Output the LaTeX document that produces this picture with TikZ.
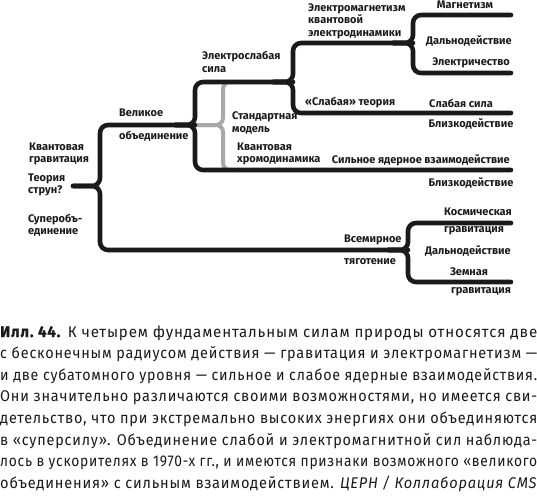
\documentclass[tikz,border=0pt]{standalone}
\usepackage{fontspec}
\usepackage{graphicx}
\setmainfont{Fira Sans}
\definecolor{linec}{HTML}{1A1A1A}
\definecolor{grayc}{HTML}{A8A8A8}
\definecolor{txtc}{HTML}{1A1A1A}
\newcommand\capln[1]{\setbox0\hbox{#1}\ifdim\wd0>537pt \resizebox{537pt}{\height}{\box0}\else\makebox[537pt][s]{#1}\fi}
\tikzset{
  br/.style={line width=4.6pt, draw=linec, rounded corners=8pt, line cap=round, line join=round},
  gbr/.style={line width=4pt, draw=grayc, rounded corners=7pt},
  lbl/.style={inner sep=0pt, font=\bfseries\fontsize{11}{12.5}\selectfont, text=txtc, align=left},
  lblc/.style={lbl, align=center},
  capl/.style={inner sep=0pt, anchor=base west, text=txtc, font=\fontsize{15.5}{21.6}\selectfont\addfontfeature{LetterSpace=5.5}},
}
\begin{document}
\begin{tikzpicture}[x=1pt,y=-1pt]
\useasboundingbox (0,0) rectangle (537,501);
% branch points
\coordinate (r0) at (73,186);
\coordinate (rb) at (100,186);
\coordinate (vb) at (195,125);
\coordinate (eb) at (293,82);
\coordinate (mb) at (413,43);
\coordinate (gb) at (408,250);
\coordinate (sb) at (223,125);
\coordinate (sT) at (245,82);
\coordinate (sB) at (245,170);
% ends
\coordinate (eMag) at (511,15);
\coordinate (eEl) at (511,73);
\coordinate (eWeak) at (511,113);
\coordinate (eStr) at (511,170);
\coordinate (eKos) at (511,223);
\coordinate (eZem) at (511,282);
% gray standard model brace
\draw[gbr] (vb) -- (sb) |- (sT);
\draw[gbr] (vb) -- (sb) |- (sB);
% black tree
\draw[br] (r0) -- (rb) |- (vb);
\draw[br] (r0) -- (rb) |- (gb);
\draw[br] ([xshift=-20pt]vb) -- (vb) |- (eb);
\draw[br] ([xshift=-20pt]vb) -- (vb) |- (eStr);
\draw[br] ([xshift=-20pt]eb) -- (eb) |- (mb);
\draw[br] ([xshift=-20pt]eb) -- (eb) |- (eWeak);
\draw[br] ([xshift=-20pt]mb) -- (mb) |- (eMag);
\draw[br] ([xshift=-20pt]mb) -- (mb) |- (eEl);
\draw[br] ([xshift=-20pt]gb) -- (gb) |- (eKos);
\draw[br] ([xshift=-20pt]gb) -- (gb) |- (eZem);
% labels
\node[lblc] (tMag) at (465,5) {Магнетизм};
\node[lblc] (tDal1) at (469,41) {Дальнодействие};
\node[lblc] (tEl) at (471,63) {Электричество};
\node[lbl, anchor=west] (tEM) at (308,21) {Электромагнетизм\\квантовой\\электродинамики};
\node[lbl, anchor=west] (tWT) at (305,103) {«Слабая» теория};
\node[lblc] (tWF) at (461,103) {Слабая сила};
\node[lblc] (tBl1) at (471,124) {Близкодействие};
\node[lbl, anchor=west] (tES) at (202,62) {Электрослабая\\сила};
\node[lbl, anchor=west] (tV1) at (119,113) {Великое};
\node[lbl, anchor=west] (tV2) at (119,136) {объединение};
\node[lbl, anchor=west] (tSM) at (232,123) {Стандартная\\модель};
\node[lbl, anchor=west] (tQCD) at (237,154) {Квантовая\\хромодинамика};
\node[lbl, anchor=east] (tStr) at (510,160) {Сильное ядерное взаимодействие};
\node[lblc] (tBl2) at (471,183) {Близкодействие};
\node[lbl, anchor=west] (tQG) at (29,154) {Квантовая\\гравитация};
\node[lbl, anchor=west] (tTS) at (28,185) {Теория\\струн?};
\node[lbl, anchor=west] (tSU) at (28,225) {Суперобъ-\\единение};
\node[lbl, anchor=west] (tG1) at (344,240) {Всемирное};
\node[lbl, anchor=west] (tG2) at (344,262) {тяготение};
\node[lblc] (tK1) at (478,212) {Космическая};
\node[lblc] (tK2) at (474,231) {гравитация};
\node[lblc] (tDal2) at (468,251) {Дальнодействие};
\node[lblc] (tZ1) at (469,272) {Земная};
\node[lblc] (tZ2) at (481,292) {гравитация};
% caption
\node[capl] (c1) at (0,337.0) {\capln{{\bfseries\addfontfeature{FakeBold=1.2}Илл.~44.}\enspace К четырем фундаментальным силам природы относятся две}};
\node[capl] (c2) at (0,358.6) {\capln{с бесконечным радиусом действия — гравитация и электромагнетизм —}};
\node[capl] (c3) at (0,380.2) {\capln{и две субатомного уровня — сильное и слабое ядерные взаимодействия.}};
\node[capl] (c4) at (0,401.8) {\capln{Они значительно различаются своими возможностями, но имеется сви-}};
\node[capl] (c5) at (0,423.4) {\capln{детельство, что при экстремально высоких энергиях они объединяются}};
\node[capl] (c6) at (0,445.0) {\capln{в «суперсилу». Объединение слабой и электромагнитной сил наблюда-}};
\node[capl] (c7) at (0,466.6) {\capln{лось в ускорителях в 1970-х гг., и имеются признаки возможного «великого}};
\node[capl] (c8) at (0,488.2) {\capln{объединения» с сильным взаимодействием. \textit{ЦЕРН / Коллаборация CMS}}};
\end{tikzpicture}
\end{document}
